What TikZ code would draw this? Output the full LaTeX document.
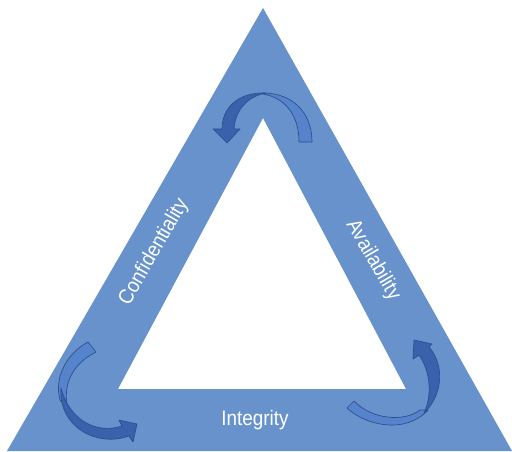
\documentclass[tikz,border=0pt]{standalone}
\usepackage{fontspec}
\newfontfamily\labelfont[FakeStretch=0.9]{Liberation Sans}
\definecolor{frame}{RGB}{104,146,204}
\definecolor{arrowlight}{RGB}{86,132,204}
\definecolor{arrowdark}{RGB}{58,97,172}
\definecolor{arrowline}{RGB}{44,80,142}
\tikzset{
  lbl/.style={text=white, font=\labelfont\fontsize{21}{21}\selectfont, inner sep=0pt},
  backpart/.style={fill=arrowlight, draw=arrowline, line width=0.7pt, line join=round},
  frontpart/.style={fill=arrowdark, draw=arrowline, line width=0.7pt, line join=round}
}
\begin{document}
\begin{tikzpicture}[x=1pt,y=-1pt]
\useasboundingbox (0,0) rectangle (512,452);
\fill[white] (0,0) rectangle (512,452);
% triangle band
\fill[frame, even odd rule] (263,8) -- (512,451) -- (7,451) -- cycle
  (263,118) -- (406,389) -- (118,389) -- cycle;
% top arrow
\draw[backpart] (263,93) .. controls (292,93) and (312,112) .. (312,142)
  -- (299,142) .. controls (299,116) and (286,98) .. (263,94) -- cycle;
\draw[frontpart] (266,93) .. controls (238,92) and (222,108) .. (222,129)
  -- (213,129) -- (227,143) -- (240,129) -- (234,129)
  .. controls (235,110) and (248,96) .. (266,93) -- cycle;
% bottom-left arrow
\draw[backpart] (88,342) .. controls (66,354) and (54,378) .. (60,400)
  -- (68,410) .. controls (62,385) and (72,364) .. (96,352) -- cycle;
\draw[frontpart] (61,388) .. controls (58,425) and (95,448) .. (129,436)
  -- (133,442) -- (137,424) -- (119,420) -- (122,426)
  .. controls (98,434) and (70,422) .. (61,388) -- cycle;
% bottom-right arrow
\draw[backpart] (347,408) .. controls (365,425) and (405,435) .. (428,410)
  -- (420,410) .. controls (405,422) and (372,420) .. (354,401) -- cycle;
\draw[frontpart] (424,413) .. controls (444,394) and (444,364) .. (429,347)
  -- (432,344) -- (414,340) -- (413,359) -- (419,355)
  .. controls (431,372) and (432,396) .. (424,413) -- cycle;
% labels
\node[lbl, rotate=60] (conf) at (154,252) {Confidentiality};
\node[lbl, rotate=-60] (avail) at (373,260) {Availability};
\node[lbl] (integ) at (255,420) {Integrity};
\end{tikzpicture}
\end{document}
